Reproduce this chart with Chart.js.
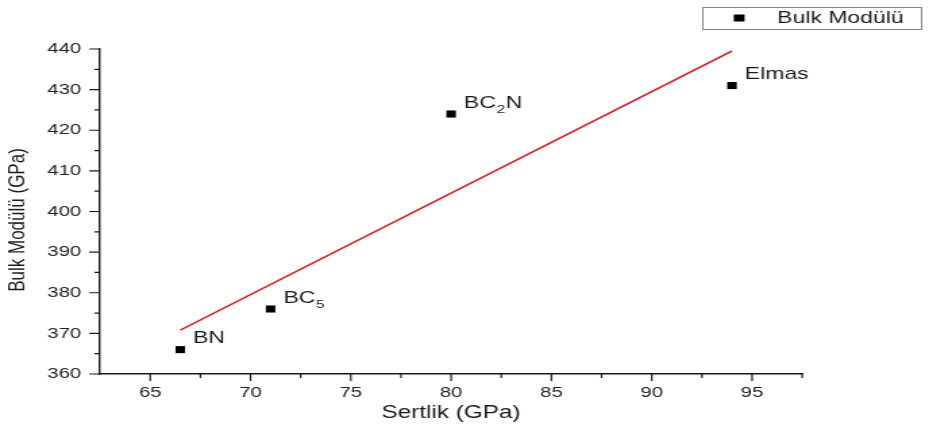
<!DOCTYPE html>
<html>
<head>
<meta charset="utf-8">
<script src="https://cdn.jsdelivr.net/npm/chart.js@4/dist/chart.umd.min.js"></script>
<style>
  html, body { margin: 0; padding: 0; background: #fff; }
  canvas { display: block; }
</style>
</head>
<body>
<!-- drawn 688px wide and displayed 929px wide: the figure is widened horizontally -->
<canvas id="chart" width="688" height="430" style="width:929px;height:430px"></canvas>
<script>
// Hardness against bulk modulus for B–C–N phases and diamond
const materials   = ['BN', 'BC_5', 'BC_2N', 'Elmas'];
const hardness    = [66.5, 71, 80, 94];        // Sertlik (GPa)
const bulkModulus = [366, 376, 424, 431];      // Bulk Modülü (GPa)

// end points of the linear fit
const fitHardness = [66.5, 94];
const fitBulk     = [370.8, 439.5];

const xTicks      = [65, 70, 75, 80, 85, 90, 95];
const xMinorTicks = [67.5, 72.5, 77.5, 82.5, 87.5, 92.5, 97.5];
const yTicks      = [360, 370, 380, 390, 400, 410, 420, 430, 440];
const yMinorTicks = [365, 375, 385, 395, 405, 415, 425, 435];

const seriesName = 'Bulk Modülü';
const xTitle = 'Sertlik (GPa)';
const yTitle = 'Bulk Modülü (GPa)';

const FONT = "'Liberation Sans', Arial, Helvetica, sans-serif";
const INK = '#1a1a1a';

// split "BC_2N" into normal and subscript pieces
function splitLabel(s) {
  const parts = [];
  for (let i = 0; i < s.length; i++) {
    if (s[i] === '_' && i + 1 < s.length) { parts.push({ t: s[i + 1], sub: true }); i++; }
    else if (parts.length && !parts[parts.length - 1].sub) parts[parts.length - 1].t += s[i];
    else parts.push({ t: s[i], sub: false });
  }
  return parts;
}

const decor = {
  id: 'decor',
  afterDraw(chart) {
    const { ctx, chartArea: ca } = chart;
    const x = chart.scales.x, y = chart.scales.y;
    ctx.save();

    // outward tick marks, major and minor
    ctx.strokeStyle = INK;
    ctx.lineWidth = 1.2;
    ctx.beginPath();
    xTicks.forEach(v => { const p = x.getPixelForValue(v); ctx.moveTo(p, ca.bottom); ctx.lineTo(p, ca.bottom + 7); });
    xMinorTicks.forEach(v => { const p = x.getPixelForValue(v); ctx.moveTo(p, ca.bottom); ctx.lineTo(p, ca.bottom + 4); });
    yTicks.forEach(v => { const p = y.getPixelForValue(v); ctx.moveTo(ca.left, p); ctx.lineTo(ca.left - 8, p); });
    yMinorTicks.forEach(v => { const p = y.getPixelForValue(v); ctx.moveTo(ca.left, p); ctx.lineTo(ca.left - 4.2, p); });
    ctx.stroke();

    // axis titles
    ctx.fillStyle = INK;
    ctx.textAlign = 'center';
    ctx.textBaseline = 'middle';
    ctx.font = `18px ${FONT}`;
    ctx.fillText(xTitle, (ca.left + ca.right) / 2, 413);
    ctx.save();
    ctx.translate(13.3, 220);
    ctx.rotate(-Math.PI / 2);
    ctx.font = `17px ${FONT}`;
    ctx.fillText(yTitle, 0, 0);
    ctx.restore();

    // point names
    const meta = chart.getDatasetMeta(0);
    ctx.textAlign = 'left';
    meta.data.forEach((el, i) => {
      let tx = el.x + 9.5;
      const ty = el.y - 11;
      splitLabel(materials[i]).forEach(seg => {
        ctx.font = seg.sub ? `11.5px ${FONT}` : `17px ${FONT}`;
        ctx.fillText(seg.t, tx, seg.sub ? ty + 6.5 : ty);
        tx += ctx.measureText(seg.t).width + 0.5;
      });
    });

    // legend box
    ctx.strokeStyle = '#8a8a8a';
    ctx.lineWidth = 1;
    ctx.strokeRect(520.5, 7.5, 162, 22);
    ctx.fillStyle = '#000';
    ctx.fillRect(547.4 - 4, 18 - 3.5, 8, 7);
    ctx.fillStyle = INK;
    ctx.font = `17px ${FONT}`;
    ctx.fillText(seriesName, 575.6, 18.5);

    ctx.restore();
  }
};

const tickFont = { family: FONT, size: 15 };

new Chart(document.getElementById('chart'), {
  type: 'scatter',
  data: {
    datasets: [
      {
        label: seriesName,
        data: hardness.map((h, i) => ({ x: h, y: bulkModulus[i] })),
        pointStyle: 'rect',
        pointRadius: 5,
        backgroundColor: '#000',
        borderColor: '#000',
        borderWidth: 0,
        order: 0
      },
      {
        label: 'fit',
        type: 'line',
        data: fitHardness.map((h, i) => ({ x: h, y: fitBulk[i] })),
        borderColor: '#d8232a',
        borderWidth: 1.6,
        pointRadius: 0,
        fill: false,
        order: 1
      }
    ]
  },
  options: {
    responsive: false,
    devicePixelRatio: 1,
    animation: false,
    layout: { padding: { top: 49, right: 93.9, bottom: 0, left: 0 } },
    plugins: { legend: { display: false }, tooltip: { enabled: false } },
    scales: {
      x: {
        type: 'linear',
        min: 62.5,
        max: 97.5,
        afterBuildTicks: s => { s.ticks = xTicks.map(v => ({ value: v })); },
        afterFit: s => { s.height = 56; },
        grid: { display: false, drawTicks: false },
        border: { display: true, color: INK, width: 1.4 },
        ticks: { padding: 10, font: tickFont, color: '#222', maxRotation: 0, autoSkip: false }
      },
      y: {
        type: 'linear',
        min: 360,
        max: 440,
        afterBuildTicks: s => { s.ticks = yTicks.map(v => ({ value: v })); },
        afterFit: s => { s.width = 74.1; },
        grid: { display: false, drawTicks: false },
        border: { display: true, color: INK, width: 1.4 },
        ticks: { padding: 14, font: tickFont, color: '#222', autoSkip: false }
      }
    }
  },
  plugins: [decor]
});
</script>
</body>
</html>
